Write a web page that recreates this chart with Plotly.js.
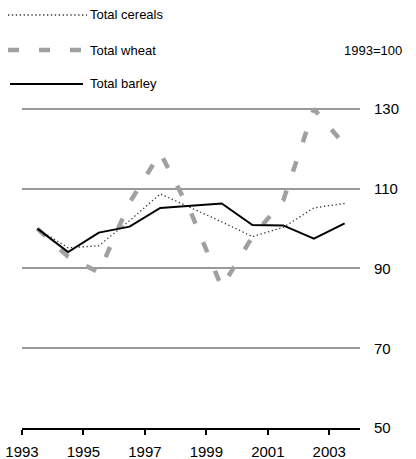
<!DOCTYPE html>
<html>
<head>
<meta charset="utf-8">
<script src="https://cdn.plot.ly/plotly-3.0.1.min.js"></script>
<style>
html,body{margin:0;padding:0;background:#fff;}
#chart{width:416px;height:459px;}
</style>
</head>
<body>
<div id="chart"></div>
<script>
var years = [1993, 1994, 1995, 1996, 1997, 1998, 1999, 2000, 2001, 2002, 2003];
var cereals = [100, 95.2, 95.7, 102, 108.7, 105.3, 101.7, 98, 100.3, 105.2, 106.3];
var wheat = [100, 93, 89, 106.5, 119, 104, 85.3, 98, 107, 130, 121];
var barley = [100, 94.1, 99, 100.5, 105.2, 105.7, 106.3, 100.9, 100.8, 97.5, 101.3];
var seriesNames = ['Total cereals', 'Total wheat', 'Total barley'];
var tickLabels = ['1993', '1995', '1997', '1999', '2001', '2003'];
var yTicks = [50, 70, 90, 110, 130];

var font = 'Liberation Sans, Arial, Helvetica, sans-serif';
var styles = [
  {color: '#333333', width: 1.3, dash: '1.3px,2.6px'},
  {color: '#a0a0a0', width: 4.5, dash: '11px,20px'},
  {color: '#000000', width: 2, dash: 'solid'}
];
var values = [cereals, wheat, barley];

var traces = values.map(function (v, i) {
  return {x: years, y: v, name: seriesNames[i], type: 'scatter', mode: 'lines',
          line: styles[i], cliponaxis: false, showlegend: false};
});

// plot area in pixels (for legend placement in paper coords)
var L = 22, R = 360, T = 105, B = 428;
function px(x) { return (x - L) / (R - L); }
function py(y) { return (B - y) / (B - T); }

var legendY = [15, 50, 84];
var legendX0 = [8, 8, 10];
var legendX1 = [87, 81, 83];
var shapes = [], annotations = [];
seriesNames.forEach(function (n, i) {
  shapes.push({type: 'line', xref: 'paper', yref: 'paper',
    x0: px(legendX0[i]), x1: px(legendX1[i]), y0: py(legendY[i]), y1: py(legendY[i]),
    line: {color: styles[i].color, width: styles[i].width, dash: styles[i].dash}});
  annotations.push({text: n, xref: 'paper', yref: 'paper', x: px(88), y: py(legendY[i]),
    xanchor: 'left', yanchor: 'middle', showarrow: false,
    font: {family: font, size: 13, color: '#000'}});
});
annotations.push({text: '1993=100', xref: 'paper', yref: 'paper', x: px(404), y: py(50),
  xanchor: 'right', yanchor: 'middle', showarrow: false,
  font: {family: font, size: 13, color: '#000'}});

var layout = {
  width: 416, height: 459,
  margin: {l: L, r: 416 - R, t: T, b: 459 - B},
  paper_bgcolor: '#ffffff', plot_bgcolor: '#ffffff',
  font: {family: font, size: 13, color: '#000'},
  showlegend: false,
  xaxis: {
    range: [1992.5, 2003.5],
    tickvals: tickLabels.map(function (t) { return Number(t) - 0.5; }),
    ticktext: tickLabels, tickangle: 0,
    showgrid: false, zeroline: false,
    showline: true, linecolor: '#000', linewidth: 2,
    ticks: 'outside', ticklen: 5, tickwidth: 2, tickcolor: '#000',
    ticklabelstandoff: 4,
    tickfont: {family: font, size: 15, color: '#000'},
    fixedrange: true
  },
  yaxis: {
    range: [50, 131], side: 'right',
    tickvals: yTicks, ticktext: yTicks.map(String),
    showgrid: true, gridcolor: '#999999', gridwidth: 2,
    zeroline: false, showline: false,
    ticks: 'outside', ticklen: 10, tickcolor: 'rgba(0,0,0,0)',
    tickfont: {family: font, size: 15, color: '#000'},
    fixedrange: true
  },
  shapes: shapes,
  annotations: annotations
};

Plotly.newPlot('chart', traces, layout, {displayModeBar: false, staticPlot: true});
</script>
</body>
</html>
